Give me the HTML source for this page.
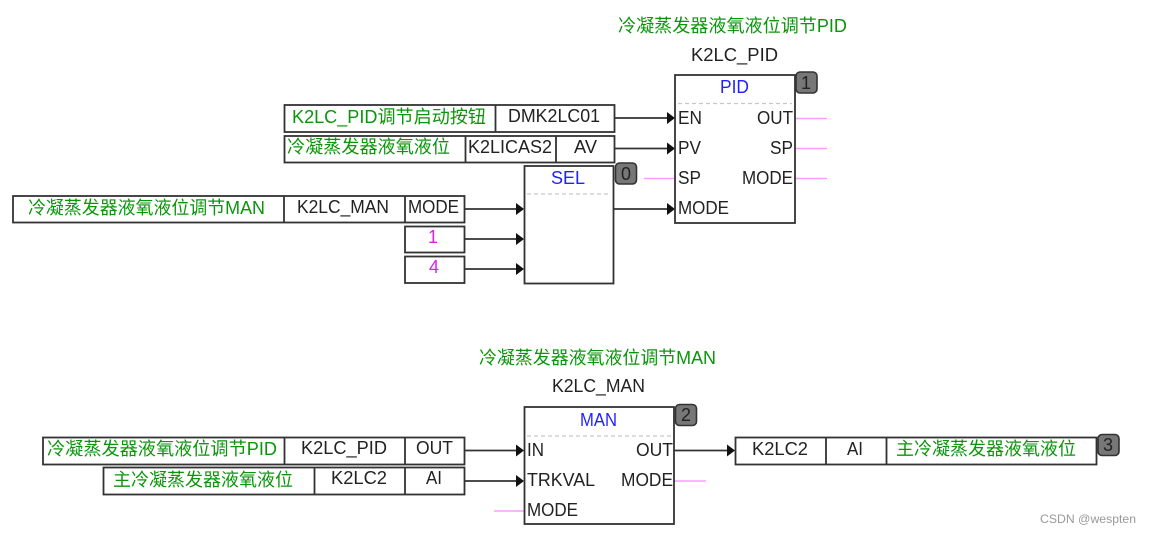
<!DOCTYPE html>
<html><head><meta charset="utf-8"><style>
html,body{margin:0;padding:0;background:#fff}
svg{display:block}
text{font-family:"Liberation Sans","WenQuanYi Zen Hei","Noto Sans CJK SC",sans-serif;font-size:18px;fill:#222;font-weight:normal}
.g{fill:#0a960a}.b{fill:#2222ff}.m{fill:#e020e0}
.box{fill:#fff;stroke:#333;stroke-width:1.8}
.l{stroke:#333;stroke-width:1.8;fill:none}
.p{stroke:#ff9cff;stroke-width:1.4;fill:none}
.d{stroke:#c8c8c8;stroke-width:1.2;stroke-dasharray:4 3;fill:none}
.ar{fill:#111}
.bd{fill:#777;stroke:#333;stroke-width:1.6}
</style></head><body>
<svg xmlns="http://www.w3.org/2000/svg" width="1151" height="535" viewBox="0 0 1151 535">
<!-- connectors -->
<path class="l" d="M615 118H670M615 148.500H670M465 209H518M465 239H518M465 269H518M613 209H670M465 450.500H520M465 481H520M674 450.500H730"/>
<path class="ar" d="M667 112l8 6-8 6zM667 142.500l8 6-8 6zM667 203l8 6-8 6zM516 203l8 6-8 6zM516 233l8 6-8 6zM516 263l8 6-8 6zM516 444.500l8 6-8 6zM516 475l8 6-8 6zM727 444.500l8 6-8 6z"/>
<path class="p" d="M795 118.500H827M795 148.500H827M795 178.500H827M644 178.500H675M674 481H706M494 511H524"/>
<!-- PID -->
<rect class="box" x="675" y="75" width="120" height="148"/>
<path class="d" d="M678 103.500H792"/>
<rect class="bd" x="796" y="72" width="21" height="21" rx="4"/>
<text x="618" y="32" class="g" textLength="229" lengthAdjust="spacingAndGlyphs">冷凝蒸发器液氧液位调节PID</text>
<text x="691" y="61" textLength="87" lengthAdjust="spacingAndGlyphs">K2LC_PID</text>
<text x="720" y="93" class="b" textLength="29" lengthAdjust="spacingAndGlyphs">PID</text>
<text x="678" y="124" textLength="24" lengthAdjust="spacingAndGlyphs">EN</text>
<text x="678" y="154" textLength="23" lengthAdjust="spacingAndGlyphs">PV</text>
<text x="678" y="184" textLength="23" lengthAdjust="spacingAndGlyphs">SP</text>
<text x="678" y="214" textLength="51" lengthAdjust="spacingAndGlyphs">MODE</text>
<text x="757" y="124" textLength="36" lengthAdjust="spacingAndGlyphs">OUT</text>
<text x="770" y="154" textLength="23" lengthAdjust="spacingAndGlyphs">SP</text>
<text x="742" y="184" textLength="51" lengthAdjust="spacingAndGlyphs">MODE</text>
<text x="801" y="89" style="font-size:18px">1</text>
<!-- Row 1 -->
<rect class="box" x="284.500" y="105" width="330" height="27"/>
<path class="l" d="M495.500 105V132"/>
<text x="292" y="123" class="g" textLength="194" lengthAdjust="spacingAndGlyphs">K2LC_PID调节启动按钮</text>
<text x="508" y="122" textLength="92" lengthAdjust="spacingAndGlyphs">DMK2LC01</text>
<!-- Row 2 -->
<rect class="box" x="284.500" y="136" width="330" height="26.500"/>
<path class="l" d="M465.500 136V162.500M556 136V162.500"/>
<text x="287" y="153" class="g" textLength="163" lengthAdjust="spacingAndGlyphs">冷凝蒸发器液氧液位</text>
<text x="468" y="153" textLength="84" lengthAdjust="spacingAndGlyphs">K2LICAS2</text>
<text x="574" y="153" textLength="23" lengthAdjust="spacingAndGlyphs">AV</text>
<!-- SEL -->
<rect class="box" x="524.500" y="166" width="89" height="117.500"/>
<path class="d" d="M527 194H611"/>
<rect class="bd" x="615.500" y="163" width="21" height="21" rx="4"/>
<text x="551" y="184" class="b" textLength="34" lengthAdjust="spacingAndGlyphs">SEL</text>
<text x="621" y="180" style="font-size:18px">0</text>
<!-- Row 3 -->
<rect class="box" x="13" y="196" width="451.500" height="26.500"/>
<path class="l" d="M284 196V222.500M405 196V222.500"/>
<text x="28" y="214" class="g" textLength="237" lengthAdjust="spacingAndGlyphs">冷凝蒸发器液氧液位调节MAN</text>
<text x="297" y="213" textLength="92" lengthAdjust="spacingAndGlyphs">K2LC_MAN</text>
<text x="408" y="213" textLength="51" lengthAdjust="spacingAndGlyphs">MODE</text>
<rect class="box" x="405" y="226.500" width="59.500" height="26"/>
<rect class="box" x="405" y="256.500" width="59.500" height="26.500"/>
<text x="428" y="243" class="m">1</text>
<text x="429" y="273" class="m">4</text>
<!-- MAN -->
<text x="479" y="364" class="g" textLength="237" lengthAdjust="spacingAndGlyphs">冷凝蒸发器液氧液位调节MAN</text>
<text x="552" y="392" textLength="93" lengthAdjust="spacingAndGlyphs">K2LC_MAN</text>
<rect class="box" x="524.500" y="407" width="149.500" height="117"/>
<path class="d" d="M527 436H672"/>
<rect class="bd" x="675.500" y="404.500" width="21" height="21" rx="4"/>
<text x="580" y="426" class="b" textLength="37" lengthAdjust="spacingAndGlyphs">MAN</text>
<text x="527" y="456" textLength="17" lengthAdjust="spacingAndGlyphs">IN</text>
<text x="527" y="486" textLength="68" lengthAdjust="spacingAndGlyphs">TRKVAL</text>
<text x="527" y="516" textLength="51" lengthAdjust="spacingAndGlyphs">MODE</text>
<text x="636" y="456" textLength="37" lengthAdjust="spacingAndGlyphs">OUT</text>
<text x="621" y="486" textLength="52" lengthAdjust="spacingAndGlyphs">MODE</text>
<text x="681" y="421" style="font-size:18px">2</text>
<!-- Lower rows -->
<rect class="box" x="43" y="437.500" width="421.500" height="27"/>
<path class="l" d="M284.500 437.500V464.500M405 437.500V464.500"/>
<text x="47" y="455" class="g" textLength="230" lengthAdjust="spacingAndGlyphs">冷凝蒸发器液氧液位调节PID</text>
<text x="301" y="454" textLength="86" lengthAdjust="spacingAndGlyphs">K2LC_PID</text>
<text x="416" y="454" textLength="37" lengthAdjust="spacingAndGlyphs">OUT</text>
<rect class="box" x="103.500" y="467.500" width="361" height="27"/>
<path class="l" d="M314.500 467.500V494.500M405 467.500V494.500"/>
<text x="113" y="486" class="g" textLength="180" lengthAdjust="spacingAndGlyphs">主冷凝蒸发器液氧液位</text>
<text x="331" y="484" textLength="56" lengthAdjust="spacingAndGlyphs">K2LC2</text>
<text x="426" y="484" textLength="16" lengthAdjust="spacingAndGlyphs">AI</text>
<!-- Output -->
<rect class="box" x="735.500" y="437.500" width="361" height="27"/>
<path class="l" d="M826 437.500V464.500M886.500 437.500V464.500"/>
<text x="752" y="455" textLength="56" lengthAdjust="spacingAndGlyphs">K2LC2</text>
<text x="847" y="455" textLength="16" lengthAdjust="spacingAndGlyphs">AI</text>
<text x="896" y="455" class="g" textLength="180" lengthAdjust="spacingAndGlyphs">主冷凝蒸发器液氧液位</text>
<rect class="bd" x="1098" y="434.500" width="21" height="21" rx="4"/>
<text x="1103" y="451" style="font-size:18px">3</text>
<text x="1040" y="523" style="font-size:12px;fill:#999" textLength="96" lengthAdjust="spacingAndGlyphs">CSDN @wespten</text>
</svg>
</body></html>
